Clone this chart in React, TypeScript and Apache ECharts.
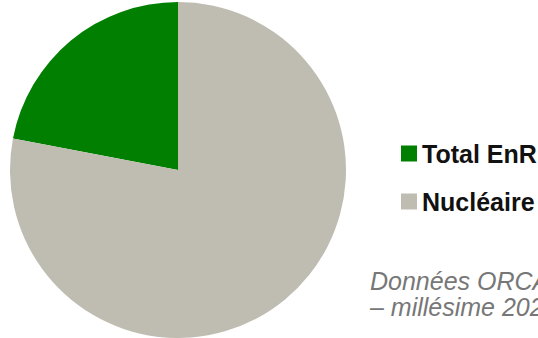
import React, { useEffect, useRef } from "react";
import * as echarts from "echarts";

const categories = ["Total EnR", "Nucléaire"];
const values = [22, 78];
const colors = ["#007f00", "#bfbcb1"];
const noteLines = ["Données ORCAE", "– millésime 2022"];

export default function App() {
  const ref = useRef<HTMLDivElement>(null);
  useEffect(() => {
    document.body.style.margin = "0";
    const chart = echarts.init(ref.current!, null, { renderer: "svg" });
    chart.setOption({
      animation: false,
      backgroundColor: "#ffffff",
      color: colors,
      legend: {
        orient: "vertical",
        left: 396,
        top: 136,
        itemWidth: 16,
        itemHeight: 16,
        itemGap: 23,
        icon: "rect",
        textStyle: {
          fontFamily: "Liberation Sans",
          fontWeight: "bold",
          fontSize: 25,
          lineHeight: 25,
          color: "#111111",
        },
        data: categories,
      },
      graphic: [
        {
          type: "text",
          left: 370,
          top: 268,
          style: {
            text: noteLines.join("\n"),
            font: "italic 25px 'Liberation Sans'",
            fill: "#777777",
            lineHeight: 26,
          },
        },
      ],
      series: [
        {
          type: "pie",
          center: [178, 170],
          radius: 168,
          startAngle: 90,
          clockwise: false,
          label: { show: false },
          labelLine: { show: false },
          emphasis: { disabled: true },
          itemStyle: { borderWidth: 0 },
          data: categories.map((name, i) => ({ name, value: values[i] })),
        },
      ],
    });
    return () => chart.dispose();
  }, []);
  return <div ref={ref} style={{ width: 538, height: 338 }} />;
}
